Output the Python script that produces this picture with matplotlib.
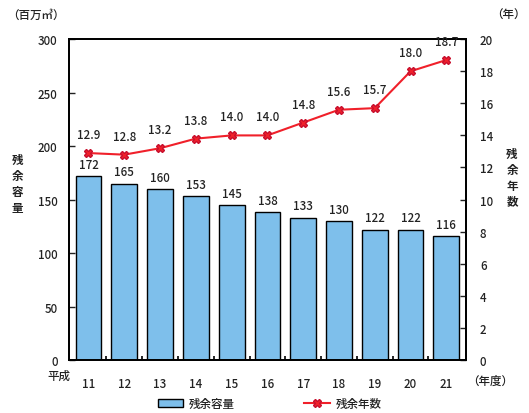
import matplotlib
matplotlib.use("Agg")
import matplotlib.pyplot as plt
from matplotlib.patches import Patch
from matplotlib.lines import Line2D
import numpy as np

plt.rcParams['font.family'] = ['Noto Sans CJK JP', 'DejaVu Sans']

years = ["11", "12", "13", "14", "15", "16", "17", "18", "19", "20", "21"]
capacity = [172, 165, 160, 153, 145, 138, 133, 130, 122, 122, 116]
remaining_years = [12.9, 12.8, 13.2, 13.8, 14.0, 14.0, 14.8, 15.6, 15.7, 18.0, 18.7]

bar_color = "#7EBFEB"
line_color = "#F0202A"
text_color = "#222222"
fs = 8.3
fw = "medium"

fig = plt.figure(figsize=(5.29, 4.14), dpi=100)
ax = fig.add_axes([0.130, 0.128, 0.751, 0.775])
ax2 = ax.twinx()

x = np.arange(len(years))
ax.bar(x, capacity, width=0.72, color=bar_color, edgecolor="black", linewidth=1.0, zorder=2)
for xi, v in zip(x, capacity):
    ax.text(xi, v + 5, str(v), ha="center", va="bottom", fontsize=fs, color=text_color,
            fontweight=fw)

ax.set_xlim(-0.55, len(years) - 0.45)
ax.set_ylim(0, 300)
ax.set_yticks(np.arange(0, 301, 50))
ax.set_xticks(x)
ax.set_xticklabels(years, fontweight=fw)
ax.set_xticks(np.arange(0.5, len(years) - 1, 1), minor=True)
ax.tick_params(axis="x", which="major", length=0, pad=12, labelsize=fs, colors=text_color)
ax.tick_params(axis="x", which="minor", direction="in", length=3, width=1.2)
ax.tick_params(axis="y", direction="in", length=4, width=1.0, labelsize=fs, colors=text_color, pad=8)
for lbl in ax.get_yticklabels():
    lbl.set_fontweight(fw)

ax2.plot(x, remaining_years, color=line_color, linewidth=1.5, marker="X", markersize=6,
         markerfacecolor=line_color, markeredgecolor="#C8102E", zorder=3)
for xi, v in zip(x, remaining_years):
    ax2.text(xi, v + 0.75, f"{v:.1f}", ha="center", va="bottom", fontsize=fs, color=text_color,
             fontweight=fw)
ax2.set_ylim(0, 20)
ax2.set_yticks(np.arange(0, 21, 2))
ax2.tick_params(axis="y", direction="in", length=4, width=1.0, labelsize=fs, colors=text_color, pad=10)
for lbl in ax2.get_yticklabels():
    lbl.set_fontweight(fw)

for a in (ax, ax2):
    for s in a.spines.values():
        s.set_linewidth(1.3)
        s.set_color("black")

# Axis captions
fig.text(0.068, 0.962, "（百万㎥）", ha="center", va="center", fontsize=fs, color=text_color,
         fontweight=fw)
fig.text(0.962, 0.962, "（年）", ha="center", va="center", fontsize=fs, color=text_color,
         fontweight=fw)
fig.text(0.033, 0.555, "残\n余\n容\n量", ha="center", va="center", fontsize=fs,
         color=text_color, linespacing=1.3, fontweight="bold")
fig.text(0.968, 0.570, "残\n余\n年\n数", ha="center", va="center", fontsize=fs,
         color=text_color, linespacing=1.3, fontweight="bold")
fig.text(0.112, 0.090, "平成", ha="center", va="center", fontsize=fs, color=text_color,
         fontweight=fw)
fig.text(0.927, 0.078, "（年度）", ha="center", va="center", fontsize=fs, color=text_color,
         fontweight=fw)

handles = [Patch(facecolor=bar_color, edgecolor="black", linewidth=1.0),
           Line2D([0], [0], color=line_color, linewidth=1.5, marker="X", markersize=6,
                  markerfacecolor=line_color, markeredgecolor="#C8102E")]
fig.legend(handles, ["残余容量", "残余年数"], loc="center", bbox_to_anchor=(0.51, 0.022),
           ncol=2, frameon=False, prop={"size": fs, "weight": fw}, columnspacing=6,
           handlelength=2.2, handletextpad=0.5, labelcolor=text_color)

fig.savefig("out.png", dpi=100)
